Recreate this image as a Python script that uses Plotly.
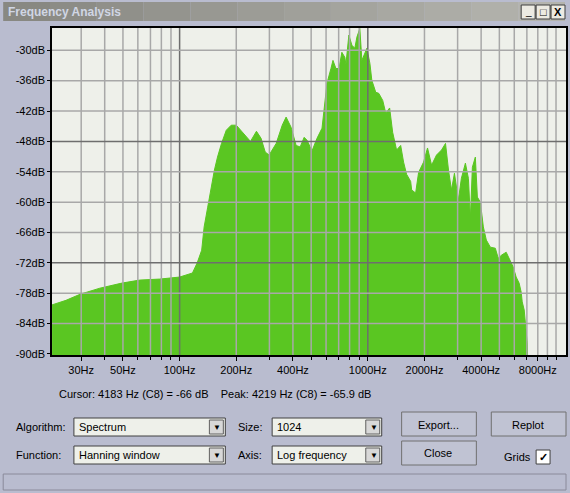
import plotly.graph_objects as go

# spectrum envelope
freq = [21.0, 24.9, 29.6, 37.7, 49.3, 61.4, 78.4, 100, 117, 124, 131, 135, 141, 148, 153, 159,
        167, 177, 188, 200, 215, 238, 256, 271, 285, 299, 326, 351, 368, 391, 416, 437, 459,
        476, 505, 537, 571, 592, 607, 637, 653, 677, 703, 728, 755, 765, 793, 823, 853, 875,
        907, 930, 953, 989, 1026, 1050, 1102, 1143, 1200, 1245, 1306, 1355, 1422, 1495, 1549,
        1607, 1689, 1710, 1795, 1862, 1978, 2076, 2182, 2317, 2464, 2587, 2684, 2783, 2886,
        3029, 3142, 3300, 3423, 3508, 3594, 3727, 3820, 3962, 4110, 4263, 4478, 4757, 4934,
        5117, 5436, 5712, 5920, 6140, 6368, 6530, 6612, 6775, 6943, 7031, 7115]
db = [-80.3, -79.4, -78.2, -77.0, -76.0, -75.4, -75.2, -74.8, -74.0, -72.0, -69.5, -64.9, -61.0,
      -56.3, -53.7, -51.1, -48.4, -45.8, -44.8, -44.8, -46.2, -48.0, -46.0, -47.4, -50.1, -50.7,
      -48.4, -44.8, -43.2, -45.2, -48.8, -49.1, -47.2, -47.8, -49.9, -47.4, -45.4, -40.5, -36.5,
      -33.6, -32.0, -33.6, -33.6, -30.4, -31.4, -32.8, -27.0, -29.0, -29.6, -27.4, -25.7, -32.0,
      -31.0, -29.6, -32.6, -35.9, -38.3, -38.5, -39.9, -42.4, -41.4, -46.2, -49.7, -48.8, -52.1,
      -54.5, -55.9, -57.6, -58.2, -54.1, -52.1, -49.3, -52.7, -50.7, -49.7, -48.4, -53.7, -57.6,
      -54.3, -59.6, -55.3, -52.3, -55.3, -63.2, -53.1, -51.1, -59.0, -60.0, -64.9, -67.5, -68.9,
      -69.1, -71.1, -70.5, -69.9, -71.5, -72.8, -74.8, -76.0, -77.8, -79.7, -81.3, -84.9, -87.8,
      -95.0]

x_ticks = [30, 50, 100, 200, 400, 1000, 2000, 4000, 8000]
x_labels = ["30Hz", "50Hz", "100Hz", "200Hz", "400Hz", "1000Hz", "2000Hz", "4000Hz", "8000Hz"]
y_ticks = [-30, -36, -42, -48, -54, -60, -66, -72, -78, -84, -90]
y_labels = ["-30dB", "-36dB", "-42dB", "-48dB", "-54dB", "-60dB", "-66dB", "-72dB", "-78dB", "-84dB", "-90dB"]
grid_x = [m * d for d in (10, 100, 1000) for m in range(1, 10)] + [10000]

W, H = 570, 493
L, R, T, B = 52, 568, 28, 355
FONT = "Liberation Sans"


def px(x):
    return (x - L) / (R - L)


def py(y):
    return (B - y) / (B - T)


fig = go.Figure()
fig.add_trace(go.Scatter(x=[freq[0], freq[-1]], y=[-100, -100], mode="lines",
                         line=dict(width=0), showlegend=False, hoverinfo="skip"))
fig.add_trace(go.Scatter(x=freq, y=db, mode="lines",
                         line=dict(color="#5ac622", width=1), fill="tonexty",
                         fillcolor="#5ac622", showlegend=False))

shapes = []
# grid drawn over the spectrum, as in the original
for fv in grid_x:
    if fv < 21:
        continue
    dark = fv in (100, 1000)
    shapes.append(dict(type="line", xref="x", yref="paper", x0=fv, x1=fv, y0=0, y1=1, layer="above",
                       line=dict(color="#6e6e6e" if dark else "#a8a8a8", width=1.5)))
for dv in y_ticks[:-1]:
    dark = dv in (-48, -72)
    shapes.append(dict(type="line", xref="paper", yref="y", x0=0, x1=1, y0=dv, y1=dv, layer="above",
                       line=dict(color="#6e6e6e" if dark else "#a8a8a8", width=1.5)))


def rect(x0, y0, x1, y1, fill, line="#808080", lw=1):
    shapes.append(dict(type="rect", xref="paper", yref="paper", x0=px(x0), x1=px(x1),
                       y0=py(y1), y1=py(y0), fillcolor=fill, line=dict(color=line, width=lw),
                       layer="above"))


# title bar
steps = 12
for i in range(steps):
    c = int(0x88 + (0xb4 - 0x88) * i / (steps - 1))
    col = "rgb(%d,%d,%d)" % (c, c, c - 6)
    rect(3 + i * 564 / steps, 2, 3 + (i + 1) * 564 / steps, 21, col, line=col, lw=0)
for bx in (523, 538, 553):
    rect(bx, 5, bx + 14, 19, "#eceae2", line="#404040")

# controls
for x0, x1, y0 in ((74, 226, 418), (273, 383, 418), (74, 226, 446), (273, 383, 446)):
    rect(x0, y0, x1, y0 + 18, "#eef0ea", line="#404040")
    rect(x1 - 16, y0 + 2, x1 - 2, y0 + 16, "#d8d8d8", line="#606060")
for x0, x1, y0 in ((403, 478, 412), (493, 568, 412), (403, 478, 441)):
    rect(x0, y0, x1, y0 + 24, "#c0c3d3", line="#707070")
rect(538, 450, 552, 464, "#ffffff", line="#404040")
rect(3, 474, 568, 490, "#b9bccf", line="#8a8a9a")

ann = []


def text(x, y, s, size=11, color="#000000", anchor="left", bold=False):
    ann.append(dict(xref="paper", yref="paper", x=px(x), y=py(y), text="<b>%s</b>" % s if bold else s,
                    showarrow=False, xanchor=anchor, yanchor="middle",
                    font=dict(size=size, color=color, family=FONT)))


text(6, 12, "Frequency Analysis", 12, "#d0d6e4", bold=True)
text(530, 12, "_", 10, anchor="center")
text(545, 12, "□", 11, anchor="center")
text(560, 12, "X", 11, anchor="center", bold=True)
text(57, 394, "Cursor: 4183 Hz (C8) = -66 dB    Peak: 4219 Hz (C8) = -65.9 dB", 11)
text(14, 427, "Algorithm:", 11)
text(14, 455, "Function:", 11)
text(237, 427, "Size:", 11)
text(237, 455, "Axis:", 11)
text(77, 427, "Spectrum", 11)
text(77, 455, "Hanning window", 11)
text(276, 427, "1024", 11)
text(276, 455, "Log frequency", 11)
for ax in (218, 375):
    for ay in (427, 455):
        text(ax, ay, "▼", 8, anchor="center")
text(440, 425, "Export...", 11, anchor="center")
text(530, 425, "Replot", 11, anchor="center")
text(440, 453, "Close", 11, anchor="center")
text(535, 457, "Grids", 11, anchor="right")
text(545, 457, "✓", 11, anchor="center", bold=True)

fig.update_layout(
    width=W, height=H, margin=dict(l=L, r=W - R, t=T, b=H - B),
    paper_bgcolor="#b9bccf", plot_bgcolor="#eef0ea",
    shapes=shapes, annotations=ann,
    font=dict(family=FONT, size=11, color="#000000"),
)
fig.update_xaxes(type="log", range=[1.322, 4.053], tickvals=x_ticks, ticktext=x_labels,
                 showgrid=False,
                 minor=dict(tickvals=grid_x, ticks="outside", ticklen=3, tickcolor="#000"),
                 ticks="outside", ticklen=4, tickcolor="#000",
                 showline=True, linecolor="#000", linewidth=1.5, mirror=True,
                 tickfont=dict(size=11))
fig.update_yaxes(range=[-90.2, -25.6], tickvals=y_ticks, ticktext=y_labels,
                 showgrid=False, zeroline=False,
                 ticks="outside", ticklen=3, tickcolor="#000",
                 showline=True, linecolor="#000", linewidth=1.5, mirror=True,
                 tickfont=dict(size=11))

fig.write_html("out.html", config={"displayModeBar": False},
               post_script="document.body.style.margin='0';")
